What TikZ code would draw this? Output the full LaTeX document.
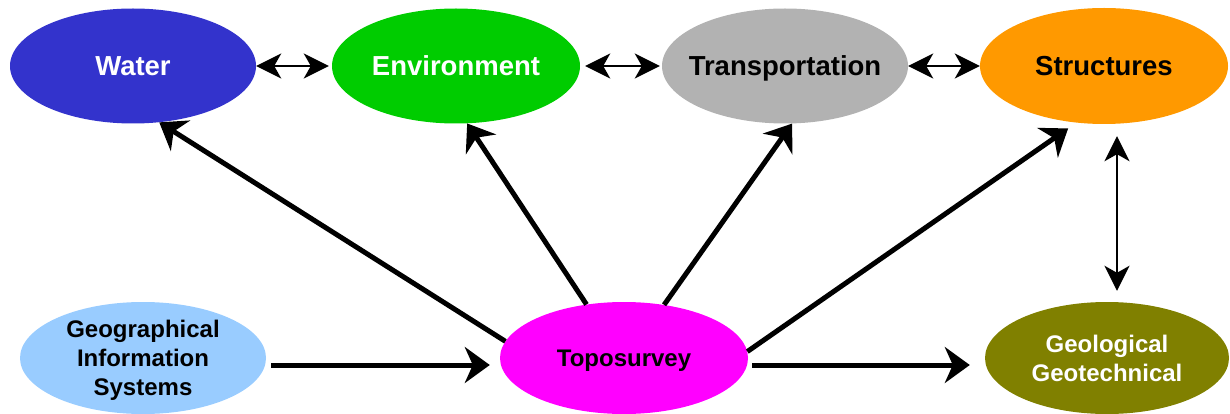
\documentclass[tikz,border=0pt]{standalone}
\usepackage{fontspec}
\setmainfont{Liberation Sans}
\usetikzlibrary{shapes.geometric,arrows.meta}
\definecolor{waterblue}{RGB}{51,51,204}
\definecolor{envgreen}{RGB}{0,204,0}
\definecolor{transgray}{RGB}{178,178,178}
\definecolor{structorange}{RGB}{255,153,0}
\definecolor{gisblue}{RGB}{153,204,255}
\definecolor{topomagenta}{RGB}{255,0,255}
\definecolor{geoolive}{RGB}{128,128,0}
\begin{document}
\begin{tikzpicture}[x=1pt,y=-1pt,
    field/.style={ellipse,inner xsep=-40pt,inner ysep=-12pt,minimum width=246pt,minimum height=115pt,
      align=center,font=\bfseries\fontsize{27.5}{33}\selectfont},
    low/.style={field,minimum height=112pt,text depth=0pt,font=\bfseries\fontsize{24}{29}\selectfont},
    link/.style={line width=2.6pt,
      {Stealth[length=25pt,width=25pt,inset=7pt]}-{Stealth[length=25pt,width=25pt,inset=7pt]}},
    feed/.style={line width=5pt,-{Stealth[length=25pt,width=36pt,inset=8pt]}}]
      \useasboundingbox (0,0) rectangle (1230,414);
      \draw
        (133,66) node[field,fill=waterblue,text=white] (water){Water}
        (456,66) node[field,fill=envgreen,text=white,minimum width=248pt] (env){Environment}
        (785,66) node[field,fill=transgray,text depth=0pt] (trans){Transportation}
        (1104,66) node[field,fill=structorange,minimum width=248pt,minimum height=116pt] (struct){Structures}
        (143,358) node[low,fill=gisblue] (gis){Geographical\\Information\\Systems}
        (624,358) node[low,fill=topomagenta,minimum width=248pt] (topo){Toposurvey}
        (1107,358) node[low,fill=geoolive,text=white,minimum width=244pt] (geo){Geological\\Geotechnical};
      \begin{scope}[link]
        \draw[shorten >=3pt] (water.east) to (env.west);
        \draw[shorten <=5pt,shorten >=2pt] (env.east) to (trans.west);
        \draw (trans.east) to (struct.west);
        \draw[shorten <=12pt,shorten >=11pt] ([xshift=13pt]struct.south) to ([xshift=10pt]geo.north);
      \end{scope}
      \begin{scope}[feed]
        \draw (topo.172) to (water.-65);
        \draw (topo.125) to (env.-79);
        \draw (topo.53) to (trans.-83);
        \draw[shorten >=10pt] (topo.3) to (struct.-116);
        \draw[shorten <=5pt,shorten >=10pt] ([yshift=-7pt]gis.east) to ([yshift=-7pt]topo.west);
        \draw[shorten <=4pt,shorten >=15pt] ([yshift=-7pt]topo.east) to ([yshift=-7pt]geo.west);
      \end{scope}
    \end{tikzpicture}
\end{document}
